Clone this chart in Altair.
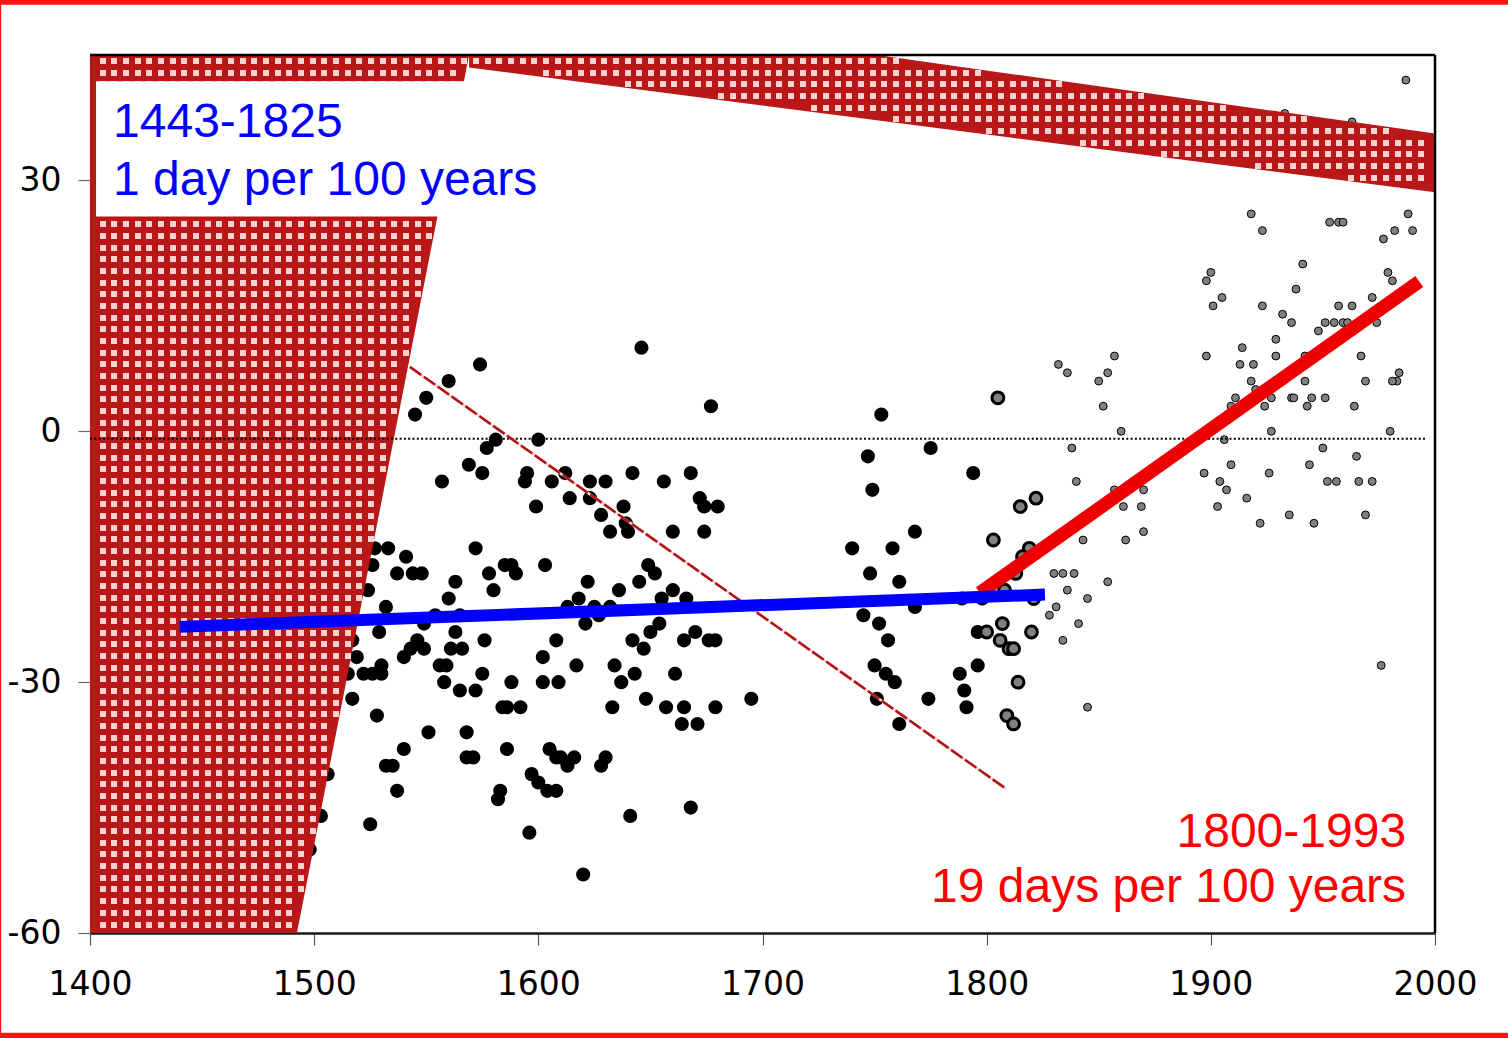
import altair as alt
import numpy as np
import pandas as pd

# ---------------------------------------------------------------------------
# Observations: year and departure in days
# ---------------------------------------------------------------------------
early_years = [
    1574, 1560, 1550, 1545, 1581, 1577, 1600, 1569, 1575, 1557, 1595, 1594, 1606, 1599,
    1572, 1533, 1527, 1541, 1526, 1537, 1544, 1548, 1563, 1578, 1585, 1588, 1590, 1603,
    1580, 1560, 1524, 1532, 1554, 1565,
    1549, 1529, 1517, 1563, 1576, 1546, 1543, 1549, 1561, 1566, 1540, 1519, 1608, 1602,
    1530, 1556, 1559, 1515, 1522, 1526, 1530, 1575, 1558, 1565, 1572, 1588, 1602, 1609,
    1517, 1584, 1586, 1592, 1528, 1551, 1568, 1540, 1586, 1605, 1608, 1532, 1535, 1568,
    1571, 1506, 1597, 1600, 1604, 1608, 1537, 1583, 1582, 1503, 1525, 1596, 1498,
    1646, 1677, 1612, 1623, 1630, 1642, 1656, 1668, 1614, 1623, 1672, 1638, 1674, 1680,
    1628, 1639, 1632, 1640, 1660, 1674, 1649, 1652, 1622, 1645, 1636, 1618, 1660, 1655,
    1666, 1613, 1625, 1632,
    1621, 1627, 1654, 1650, 1642, 1647, 1665, 1670, 1676, 1679, 1617, 1634, 1637, 1643,
    1661, 1633, 1648, 1657, 1665, 1679, 1695, 1664, 1671, 1610, 1616, 1613, 1630, 1628,
    1668, 1641, 1620,
    1753, 1747, 1775, 1794, 1749, 1768, 1740, 1758, 1748, 1761, 1789, 1768, 1798,
    1745, 1752, 1756, 1750, 1755, 1759, 1751, 1761, 1774, 1796, 1788, 1790, 1791, 1796,
]
early_days = [
    8, 6, 4, 2, -1, -2, -1, -4, -5, -6, -5, -6, -6, -9,
    -14, -14, -14, -15, -16, -17, -17, -17, -18, -17, -16, -16, -17, -16,
    -19, -20, -19, -21, -22, -22,
    -23, -24, -25, -24, -25, -25, -26, -26, -26, -26, -27, -27, -25, -27,
    -28, -28, -28, -29, -29, -29, -29, -29, -30, -31, -31, -30, -30, -30,
    -32, -33, -33, -33, -34, -36, -36, -38, -38, -38, -39, -40, -40, -39,
    -39, -41, -41, -42, -43, -43, -43, -43, -44, -46, -47, -48, -50,
    10, 3, -5, -6, -6, -5, -6, -5, -8, -8, -8, -9, -9, -9,
    -10, -11, -12, -12, -12, -12, -16, -17, -18, -18, -19, -20, -19, -20,
    -20, -21, -21, -21,
    -23, -22, -23, -24, -25, -26, -25, -24, -25, -25, -28, -28, -30, -29,
    -29, -33, -32, -33, -33, -33, -32, -35, -35, -39, -39, -40, -39, -40,
    -45, -46, -53,
    2, -3, -2, -5, -7, -12, -14, -14, -17, -18, -20, -21, -20,
    -22, -23, -25, -28, -29, -30, -32, -35, -32, -28, -29, -31, -33, -24,
]

overlap_years = [1805, 1815, 1822, 1803, 1819, 1816, 1813, 1808, 1821, 1800, 1807,
                 1806, 1810, 1812, 1820, 1814, 1809, 1812]
overlap_days = [4, -9, -8, -13, -14, -15, -17, -19, -20, -24, -23,
                -25, -26, -26, -24, -30, -34, -35]

late_years = [
    1832, 1836, 1857, 1854, 1850, 1852, 1860, 1838, 1840, 1857, 1870, 1861, 1869, 1870,
    1862, 1843, 1830, 1834, 1839, 1836, 1854, 1845, 1831, 1828, 1841, 1834, 1845,
    1976, 1898, 1901, 1905, 1914, 1913, 1919, 1918, 1920, 1911, 1909, 1906, 1897, 1909,
    1904, 1907, 1903, 1916, 1922, 1935, 1946, 1926, 1944, 1950, 1927, 1965, 1969, 1952,
    1956, 1966, 1972, 1980, 1964, 1969, 1967, 1984, 1983, 1981, 1974, 1972, 1963, 1957,
    1951, 1955, 1959, 1961, 1948, 1932, 1936, 1929, 1929, 1923, 1942, 1942, 1932, 1936,
    1937, 1945, 1943, 1951, 1927, 1924, 1987, 1933, 1963, 1918, 1923, 1953, 1957, 1959,
    1988, 1982, 1990, 1977, 1941, 1900, 1898, 1938, 1979, 1981,
]
late_days = [
    8, 7, 9, 7, 6, 3, 0, -2, -6, -7, -7, -9, -9, -12,
    -13, -13, -17, -17, -17, -19, -18, -20, -21, -22, -23, -25, -33,
    -28, 9, 15, 16, 10, 8, 8, 6, 5, 4, 3, -1, -5, -4,
    -6, -7, -9, -8, -11, -10, -11, -5, -4, -2, 0, -3, -10, -6,
    -6, -6, -6, 0, 3, 6, 9, 7, 6, 6, 13, 16, 15, 15,
    13, 13, 13, 13, 12, 14, 13, 11, 9, 15, 9, 6, 6, 4,
    4, 4, 3, 4, 4, 3, 42, 38, 37, 26, 24, 25, 25, 25,
    26, 24, 24, 23, 20, 19, 18, 17, 19, 18,
]

# ---------------------------------------------------------------------------
# Trend lines: span, rate (days per 100 years) and a point on the line
# ---------------------------------------------------------------------------
blue_span = [1440, 1826]
blue_rate = 1
blue_anchor = (1633, -21.46)

red_span = [1797, 1993]
red_rate = 19
red_anchor = (1895, -0.7)

# Shaded regions (year, day)
left_days = [-60, 45]
left_edge_years = [1492.3, 1569.1]
band_years = [1569.1, 1751, 2000]
band_top = [45, 45, 35.6]
band_bottom = [43.5, 37.2, 28.6]

guide_years = [1542.7, 1808.9]
guide_days = [7.7, -42.8]

mean_level = -0.9

YEAR_TICKS = [1400, 1500, 1600, 1700, 1800, 1900, 2000]
DAY_TICKS = [-60, -30, 0, 30]

blue_labels = ["1443-1825", "1 day per 100 years"]
red_labels = ["1800-1993", "19 days per 100 years"]

DARK_RED = "#ba1818"
PINK = "#ffd2d2"

# ---------------------------------------------------------------------------
W, H = 1345, 878
X_DOMAIN = [1400, 2000]
Y_DOMAIN = [-60, 45]
x_scale = alt.Scale(domain=X_DOMAIN, nice=False, zero=False)
y_scale = alt.Scale(domain=Y_DOMAIN, nice=False, zero=False)
x_axis = alt.Axis(values=YEAR_TICKS, title=None, grid=False, format="d",
                  tickSize=12, tickColor="#555555", tickWidth=1.2,
                  labelPadding=23, labelFont="DejaVu Sans", labelFontSize=33,
                  labelColor="black", labelFlush=False, labelOverlap=False,
                  domainColor="#1a1a1a", domainWidth=2.5)
y_axis = alt.Axis(values=DAY_TICKS, title=None, grid=False,
                  labelExpr="datum.value + ''",
                  tickSize=12, tickColor="#666666", tickWidth=1.2,
                  labelPadding=17, labelFont="DejaVu Sans", labelFontSize=33,
                  labelColor="black", labelFlush=False, labelOverlap=False,
                  domainColor="#808080", domainWidth=1.2)


def X(field):
    return alt.X(field, type="quantitative", scale=x_scale, axis=x_axis)


def Y(field):
    return alt.Y(field, type="quantitative", scale=y_scale, axis=y_axis)


def line_ends(span, rate, anchor):
    x0, y0 = anchor
    return pd.DataFrame({"year": span,
                         "day": [y0 + rate / 100 * (x - x0) for x in span]})


early = pd.DataFrame({"year": early_years, "day": early_days})
overlap = pd.DataFrame({"year": overlap_years, "day": overlap_days})
late = pd.DataFrame({"year": late_years, "day": late_days})

pts_early = alt.Chart(early).mark_circle(size=200, color="black", opacity=1).encode(
    x=X("year"), y=Y("day"))
pts_overlap = alt.Chart(overlap).mark_point(
    shape="circle", size=140, filled=True, fill="#808080", stroke="black",
    strokeWidth=3, opacity=1).encode(x=X("year"), y=Y("day"))
pts_late = alt.Chart(late).mark_point(
    shape="circle", size=62, filled=True, fill="#808080", stroke="black",
    strokeWidth=1, opacity=1).encode(x=X("year"), y=Y("day"))

# Left shaded wedge and top band
left_df = pd.DataFrame({"day": left_days, "x1": [1400, 1400], "x2": left_edge_years})
left_area = alt.Chart(left_df).mark_area(orient="horizontal", color=DARK_RED,
                                         opacity=1).encode(
    y=Y("day"), x=X("x1"), x2="x2")
band_df = pd.DataFrame({"year": band_years, "top": band_top, "bottom": band_bottom})
band_area = alt.Chart(band_df).mark_area(color=DARK_RED, opacity=1).encode(
    x=X("year"), y=Y("top"), y2="bottom")


# check texture inside the shaded regions, laid on whole screen pixels
def inside_shading(yr, dy, mx=1.3, my=0.36):
    edge = left_edge_years[0] + (dy - left_days[0]) / (left_days[1] - left_days[0]) * (
        left_edge_years[1] - left_edge_years[0])
    in_left = (yr < edge - mx) & (yr > X_DOMAIN[0] + mx) & (dy > Y_DOMAIN[0] + my)
    top_at = np.interp(yr, band_years, band_top)
    bot_at = np.interp(yr, band_years, band_bottom)
    in_band = ((yr >= band_years[0] - 1) & (yr < X_DOMAIN[1] - mx)
               & (dy < top_at - my) & (dy > bot_at + my))
    return in_left | in_band


PITCH = 11.667
cols = np.floor(13 + PITCH * np.arange(0, 116))
rows = np.floor(870 - PITCH * np.arange(0, 76))
rows = rows[rows > 0]

px, py = np.meshgrid(cols, rows)
tex_years = X_DOMAIN[0] + px.ravel() / W * (X_DOMAIN[1] - X_DOMAIN[0])
tex_days = Y_DOMAIN[1] - py.ravel() / H * (Y_DOMAIN[1] - Y_DOMAIN[0])
keep = inside_shading(tex_years, tex_days)
tex = pd.DataFrame({"year": tex_years[keep], "day": tex_days[keep]})
texture = alt.Chart(tex).mark_square(size=36, color=PINK, opacity=1).encode(
    x=X("year"), y=Y("day"))

# white label box
box_df = pd.DataFrame({"x1": [1402.7], "x2": [1568.5], "y1": [41.85], "y2": [25.7]})
box = alt.Chart(box_df).mark_rect(color="white", opacity=1).encode(
    x=X("x1"), x2="x2", y=Y("y1"), y2="y2")

mean_df = pd.DataFrame({"x1": [1400], "x2": [1996], "day": [mean_level]})
mean_rule = alt.Chart(mean_df).mark_rule(color="black", strokeWidth=2,
                                         strokeDash=[2, 2.3]).encode(
    x=X("x1"), x2="x2", y=Y("day"))

guide_df = pd.DataFrame({"year": guide_years, "day": guide_days})
guide_under = alt.Chart(guide_df).mark_line(color=PINK, strokeWidth=2.6).encode(
    x=X("year"), y=Y("day"))
guide_over = alt.Chart(guide_df).mark_line(color="#b01414", strokeWidth=2.6,
                                           strokeDash=[14, 3]).encode(
    x=X("year"), y=Y("day"))

blue_line = alt.Chart(line_ends(blue_span, blue_rate, blue_anchor)).mark_line(
    color="#0000ff", strokeWidth=12, strokeCap="butt").encode(x=X("year"), y=Y("day"))
red_line = alt.Chart(line_ends(red_span, red_rate, red_anchor)).mark_line(
    color="#ee0000", strokeWidth=13.5, strokeCap="butt").encode(x=X("year"), y=Y("day"))

# plot frame, top and right
top_df = pd.DataFrame({"x1": [1400], "x2": [2000], "day": [45]})
top_edge = alt.Chart(top_df).mark_rule(color="black", strokeWidth=2.5).encode(
    x=X("x1"), x2="x2", y=Y("day"))
right_df = pd.DataFrame({"year": [2000], "y1": [-60], "y2": [45]})
right_edge = alt.Chart(right_df).mark_rule(color="black", strokeWidth=2.5).encode(
    x=X("year"), y=Y("y1"), y2="y2")

blue_df = pd.DataFrame({"year": [1410.3, 1410.3], "day": [35.15, 28.22],
                        "text": blue_labels})
red_df = pd.DataFrame({"year": [1987.1, 1987.1], "day": [-49.7, -56.28],
                       "text": red_labels})
blue_text = alt.Chart(blue_df).mark_text(
    align="left", baseline="alphabetic", font="Liberation Sans", fontSize=48,
    color="#0000ff").encode(x=X("year"), y=Y("day"), text="text:N")
red_text = alt.Chart(red_df).mark_text(
    align="right", baseline="alphabetic", font="Liberation Sans", fontSize=48,
    color="#ff0000").encode(x=X("year"), y=Y("day"), text="text:N")

# red page border
one = pd.DataFrame({"k": [0]})
border_top = alt.Chart(one).mark_rect(color="#ff1414").encode(
    x=alt.value(-90), x2=alt.value(1418), y=alt.value(-55), y2=alt.value(-50.3))
border_bottom = alt.Chart(one).mark_rect(color="#ff1414").encode(
    x=alt.value(-90), x2=alt.value(1418), y=alt.value(977.7), y2=alt.value(983))
border_left = alt.Chart(one).mark_rect(color="#ff1414").encode(
    x=alt.value(-90), x2=alt.value(-88.8), y=alt.value(-55), y2=alt.value(983))

chart = alt.layer(
    pts_early, pts_overlap, pts_late,
    left_area, band_area, texture, box,
    mean_rule, guide_under, guide_over,
    red_line, blue_line,
    top_edge, right_edge,
    blue_text, red_text,
    border_top, border_bottom, border_left,
).properties(
    width=W, height=H,
    padding={"left": 90, "top": 55, "right": 73, "bottom": 105},
    autosize="none", background="white",
).configure_view(strokeWidth=0)

chart.save("out.html", embed_options={"renderer": "svg", "actions": False})
